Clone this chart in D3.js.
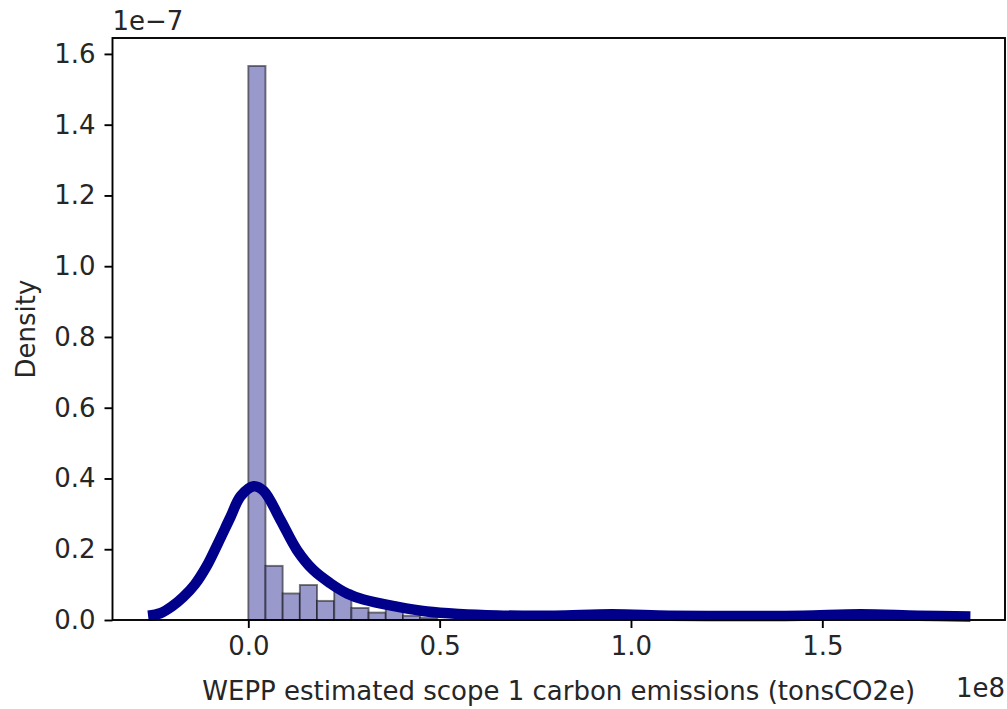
<!DOCTYPE html>
<html>
<head>
<meta charset="utf-8">
<script src="https://cdn.jsdelivr.net/npm/d3@7"></script>
<style>
  html, body { margin: 0; padding: 0; background: #fff; }
  svg { display: block; }
  text { font-family: "DejaVu Sans", sans-serif; fill: #262626; }
</style>
</head>
<body>
<svg id="chart" width="1007" height="709"></svg>
<script>
// ---- data (x in units of 1e8 tonsCO2e, density in units of 1e-7) ----
const binStart = 0;
const binWidth = 0.0449;
const barDensity = [1.566, 0.153, 0.075, 0.099, 0.054, 0.083, 0.034, 0.021, 0.040, 0.012, 0.006];

const kdeX = [-0.262, -0.23, -0.2, -0.17, -0.14, -0.11, -0.08, -0.047, -0.02, 0.014, 0.04, 0.084, 0.127, 0.17, 0.214, 0.258, 0.301, 0.388, 0.467, 0.55, 0.65, 0.8, 0.95, 1.1, 1.3, 1.45, 1.6, 1.75, 1.887];
const kdeY = [0.012, 0.019, 0.038, 0.065, 0.1, 0.15, 0.215, 0.29, 0.35, 0.378, 0.365, 0.283, 0.198, 0.141, 0.104, 0.075, 0.058, 0.038, 0.024, 0.017, 0.013, 0.012, 0.016, 0.012, 0.011, 0.012, 0.016, 0.012, 0.010];

const xTicks = [0.0, 0.5, 1.0, 1.5];
const yTicks = [0.0, 0.2, 0.4, 0.6, 0.8, 1.0, 1.2, 1.4, 1.6];
const xLabel = "WEPP estimated scope 1 carbon emissions (tonsCO2e)";
const yLabel = "Density";
const xOffset = "1e8";
const yOffset = "1e\u22127";

// ---- layout ----
const L = 112.5, R = 1005, T = 38, B = 620;
const svg = d3.select("#chart");
const x = d3.scaleLinear().domain([-0.3549, 1.9774]).range([L, R]);
const y = d3.scaleLinear().domain([0, 1.645]).range([B, T]);
const fs = 26;

// bars
const bars = barDensity.map((d, i) => ({x0: binStart + i * binWidth, x1: binStart + (i + 1) * binWidth, d}));
svg.append("g").selectAll("rect").data(bars).join("rect")
  .attr("x", d => x(d.x0))
  .attr("width", d => x(d.x1) - x(d.x0))
  .attr("y", d => y(d.d))
  .attr("height", d => y(0) - y(d.d))
  .attr("fill", "#9999cc")
  .attr("stroke", "#000")
  .attr("stroke-opacity", 0.5)
  .attr("stroke-width", 1.9);

// kde line
const pts = kdeX.map((v, i) => [v, kdeY[i]]);
svg.append("path")
  .datum(pts)
  .attr("d", d3.line().x(d => x(d[0])).y(d => y(d[1])).curve(d3.curveCatmullRom.alpha(0.5)))
  .attr("fill", "none")
  .attr("stroke", "#00008b")
  .attr("stroke-width", 10.5)
  .attr("stroke-linejoin", "round")
  .attr("stroke-linecap", "butt");

// axes
const xAxis = svg.append("g").attr("transform", `translate(0,${B})`)
  .call(d3.axisBottom(x).tickValues(xTicks).tickFormat(d3.format(".1f")).tickSize(8).tickPadding(9));
const yAxis = svg.append("g").attr("transform", `translate(${L},0)`)
  .call(d3.axisLeft(y).tickValues(yTicks).tickFormat(d3.format(".1f")).tickSize(8).tickPadding(9));
[xAxis, yAxis].forEach(g => {
  g.select(".domain").remove();
  g.selectAll(".tick line").attr("stroke", "#000").attr("stroke-width", 1.9);
  g.selectAll(".tick text").attr("font-size", fs).attr("font-family", "DejaVu Sans").attr("fill", "#262626");
});

// spines
svg.append("rect").attr("x", L).attr("y", T).attr("width", R - L).attr("height", B - T)
  .attr("fill", "none").attr("stroke", "#000").attr("stroke-width", 1.9);

// labels
svg.append("text").attr("x", (L + R) / 2).attr("y", 700).attr("text-anchor", "middle")
  .attr("font-size", fs).text(xLabel);
svg.append("text").attr("transform", `translate(35,${(T + B) / 2}) rotate(-90)`).attr("text-anchor", "middle")
  .attr("font-size", fs).text(yLabel);
svg.append("text").attr("x", R).attr("y", 697).attr("text-anchor", "end")
  .attr("font-size", fs).text(xOffset);
svg.append("text").attr("x", L).attr("y", 30).attr("text-anchor", "start")
  .attr("font-size", fs).text(yOffset);
</script>
</body>
</html>
